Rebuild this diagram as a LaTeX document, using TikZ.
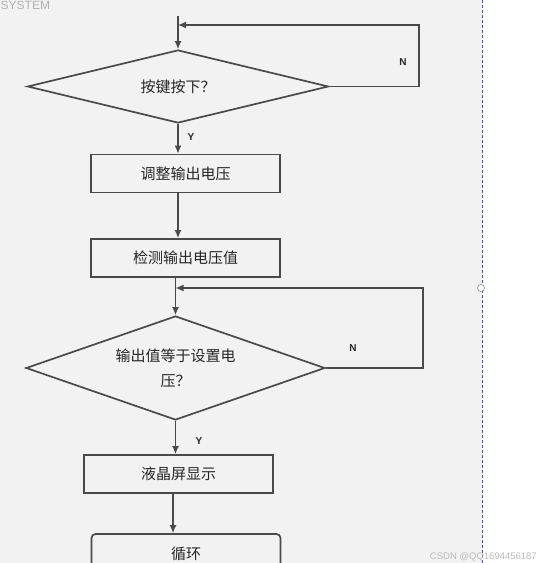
\documentclass[tikz,border=0pt]{standalone}
\usepackage{fontspec}
\setmainfont{Liberation Sans}
\newfontfamily\cjk{Noto Sans CJK SC}
\usetikzlibrary{shapes.geometric,arrows.meta}
\definecolor{bg}{HTML}{F2F2F2}
\definecolor{ln}{HTML}{4A4A4A}
\definecolor{tx}{HTML}{262626}
\definecolor{dsh}{HTML}{4A5675}
\begin{document}
\begin{tikzpicture}[x=1pt,y=-1pt,
  flow/.style={draw=ln,line width=1.7pt},
  conn/.style={draw=ln,line width=1.5pt,-{Latex[length=8pt,width=7pt]}},
  boxnode/.style={flow,fill=bg,minimum width=189pt,minimum height=38pt,inner sep=0pt,
    font=\cjk\fontsize{15}{18}\selectfont,text=tx},
  decision/.style={diamond,flow,fill=bg,inner sep=0pt,aspect=3,
    font=\cjk\fontsize{15}{25}\selectfont,text=tx},
  lab/.style={font=\fontsize{10}{12}\selectfont\bfseries,text=tx,inner sep=0pt}]
\useasboundingbox (0,0) rectangle (540,563);
\fill[bg] (0,0) rectangle (482,563);
% nodes
\node[decision,minimum width=301pt,minimum height=73pt] (d1) at (178,86.5) {按键按下？};
\node[boxnode] (b1) at (185.5,173.5) {调整输出电压};
\node[boxnode] (b2) at (185.5,258) {检测输出电压值};
\node[decision,minimum width=299pt,minimum height=104pt,align=center] (d2) at (175.5,368) {输出值等于设置电\\压？};
\node[boxnode] (b3) at (178.5,474) {液晶屏显示};
\node[boxnode,rounded corners=4pt,minimum height=40pt] (b4) at (186,554) {循环};
% coordinates
\coordinate (t0) at (178,16);
\coordinate (r1) at (419,25);
\coordinate (r2) at (423,288);
\coordinate (x4) at (173,0);
% connectors
\draw[conn] (t0) -- (d1.north);
\draw[conn] (d1.east) -| (r1) -- (r1 -| t0);
\draw[conn] (d1.south) -- (d1.south |- b1.north);
\draw[conn] (b1.south -| d1.south) -- (b2.north -| d1.south);
\draw[conn] (b2.south -| d2.north) -- (d2.north);
\draw[conn] (d2.east) -| (r2) -- (r2 -| d2.north);
\draw[conn] (d2.south) -- (d2.south |- b3.north);
\draw[conn] (b3.south -| x4) -- (b4.north -| x4);
% labels
\node[lab] (n1) at (403,62) {N};
\node[lab] (y1) at (191,137) {Y};
\node[lab] (n2) at (353,348) {N};
\node[lab] (y2) at (199,441) {Y};
% screenshot frame details
\draw[dsh,line width=0.8pt,dash pattern=on 3pt off 2pt] (482,0) -- (482,563);
\node[circle,draw=dsh!70,fill=white,line width=0.6pt,minimum size=7pt,inner sep=0pt] (hd) at (481,288) {};
\node[anchor=base west,text=gray!60,font=\fontsize{12}{12}\selectfont,inner sep=0pt] (sys) at (0.5,9.5) {SYSTEM};
\node[anchor=base east,text=gray!55,font=\fontsize{9.5}{10}\selectfont,inner sep=0pt] (wm) at (537,559) {CSDN @QQ1694456187};
\end{tikzpicture}
\end{document}
